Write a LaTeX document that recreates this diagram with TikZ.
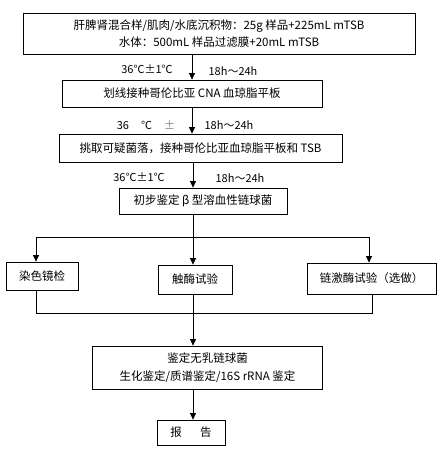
\documentclass[tikz,border=0pt]{standalone}
\usepackage{fontspec}
\setmainfont{Noto Sans CJK SC}
\usetikzlibrary{arrows.meta}
\begin{document}
\begin{tikzpicture}[x=1pt,y=-1pt,
  box/.style={draw=black,line width=0.8pt,inner sep=0pt,align=center,
    font=\fontsize{11.5}{17.5}\selectfont},
  lbl/.style={inner sep=0pt,font=\fontsize{11}{13}\selectfont},
  conn/.style={draw=black,line width=0.8pt},
  arr/.style={conn,-{Triangle[length=6.5pt,width=6pt]}}]
\useasboundingbox[fill=white] (0,0) rectangle (440,454);
% boxes
\node[box,minimum width=392pt,minimum height=41pt] (b1) at (219,33.5)
  {肝脾肾混合样/肌肉/水底沉积物：25g 样品+225mL mTSB\\水体：500mL 样品过滤膜+20mL mTSB};
\node[box,minimum width=260pt,minimum height=27pt] (b2) at (192,93.5)
  {划线接种哥伦比亚 CNA 血琼脂平板};
\node[box,minimum width=283pt,minimum height=28pt] (b3) at (200.5,148)
  {挑取可疑菌落，接种哥伦比亚血琼脂平板和 TSB};
\node[box,minimum width=168pt,minimum height=26pt] (b4) at (203,201)
  {初步鉴定 β 型溶血性链球菌};
\node[box,minimum width=72pt,minimum height=28pt] (s1) at (42,276) {染色镜检};
\node[box,minimum width=74pt,minimum height=29pt] (s2) at (195,279.5) {触酶试验};
\node[box,minimum width=129pt,minimum height=31pt] (s3) at (371.5,278.5) {链激酶试验（选做）};
\node[box,minimum width=230pt,minimum height=43pt] (b5) at (207.5,367.5)
  {鉴定无乳链球菌\\生化鉴定/质谱鉴定/16S rRNA 鉴定};
\node[box,minimum width=68pt,minimum height=25pt] (b6) at (191,432.5)
  {报\hspace{1.6em}告};
% labels
\node[lbl] (t1a) at (147,69) {36℃±1℃};
\node[lbl] (t1b) at (233,71) {18h～24h};
\node[lbl] (t2a) at (146,125) {36\hspace{1.1em}℃\hspace{1.1em}\textcolor{gray}{±}};
\node[lbl] (t2b) at (229,125) {18h～24h};
\node[lbl] (t3a) at (139,177) {36℃±1℃};
\node[lbl] (t3b) at (240,178) {18h～24h};
% coordinates
\coordinate (c) at (192,0);
\coordinate (m) at (193,0);
\coordinate (j1) at (193,237);
\coordinate (jl) at (36,237);
\coordinate (jr) at (369,237);
\coordinate (kl) at (36,313);
\coordinate (kr) at (372,313);
% connectors
\draw[arr] (c |- b1.south) -- (c |- b2.north);
\draw[arr] (c |- b2.south) -- (c |- b3.north);
\draw[arr] (m |- b3.south) -- (m |- b4.north);
\draw[conn] (m |- b4.south) -- (j1);
\draw[conn] (jl) -- (jr);
\draw[arr] (jl) -- (jl |- s1.north);
\draw[arr] (j1) -- (j1 |- s2.north);
\draw[arr] (jr) -- (jr |- s3.north);
\draw[conn] (kl |- s1.south) -- (kl) -- (kr) -- (kr |- s3.south);
\draw[arr] (m |- s2.south) -- (m |- b5.north);
\draw[arr] (m |- b5.south) -- (m |- b6.north);
\end{tikzpicture}
\end{document}
